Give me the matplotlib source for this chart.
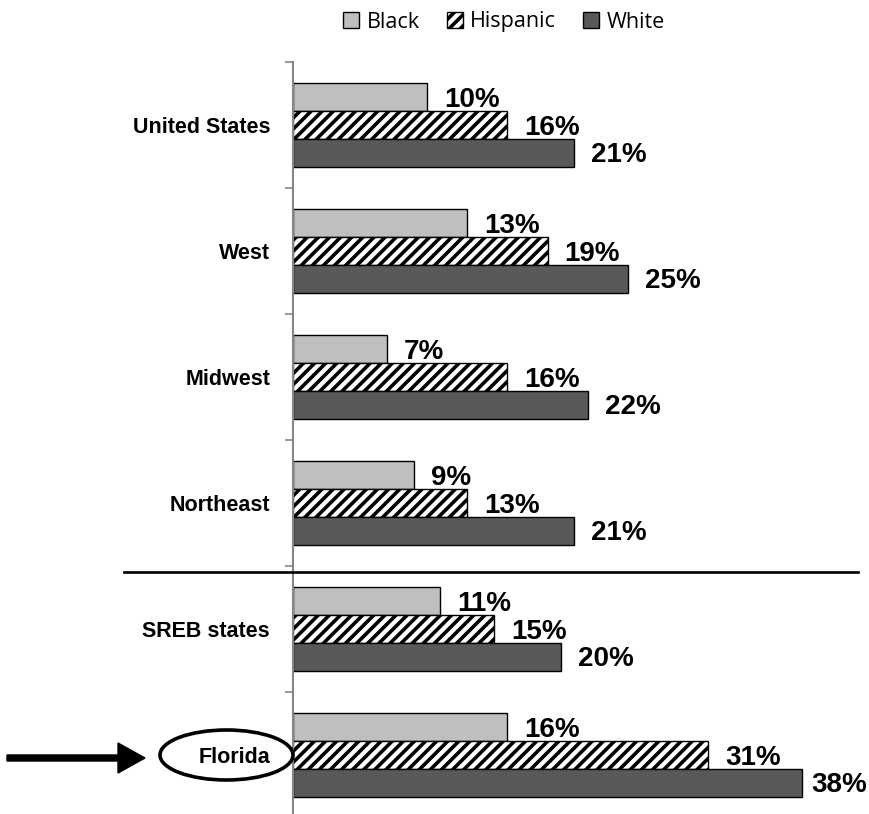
import numpy as np
import matplotlib.pyplot as plt
from matplotlib.patches import Patch, Ellipse, FancyArrow
from matplotlib.lines import Line2D

regions = ['United States', 'West', 'Midwest', 'Northeast', 'SREB states', 'Florida']
black = [10, 13, 7, 9, 11, 16]
hispanic = [16, 19, 16, 13, 15, 31]
white = [21, 25, 22, 21, 20, 38]

plt.rcParams['hatch.linewidth'] = 2.6
plt.rcParams['hatch.color'] = '#4a4a4a'

fig = plt.figure(figsize=(8.69, 8.14), dpi=100)
ax = fig.add_axes([293 / 869, -4 / 814, 536 / 869, 756 / 814])

y = np.arange(len(regions))
h = 0.222
series = [
    (black, -h, dict(color='#bfbfbf', edgecolor='black')),
    (hispanic, 0, dict(color='white', edgecolor='black', hatch='///')),
    (white, h, dict(color='#595959', edgecolor='black')),
]
for vals, off, st in series:
    ax.barh(y + off, vals, height=h, linewidth=1.0, **st)
    for yy, v in zip(y + off, vals):
        # labels sit outside the bar end, but stay inside the figure
        ax.text(min(v + 1.27, 38.65), yy + 0.02, f'{v}%', ha='left', va='center',
                fontsize=20, fontweight='bold', family='Liberation Sans')

ax.set_xlim(0, 40)
ax.set_ylim(len(regions) - 0.5, -0.5)
ax.set_yticks(y)
ax.set_yticklabels(regions, fontsize=15.5, fontweight='bold', family='Liberation Sans')
ax.set_yticks(np.arange(-0.5, len(regions), 1), minor=True)
ax.tick_params(axis='y', which='major', length=0, pad=16.5)
ax.tick_params(axis='y', which='minor', length=6, color='#868686', width=1.2)
ax.set_xticks([])
for s in ['top', 'right', 'bottom']:
    ax.spines[s].set_visible(False)
ax.spines['left'].set_color('#868686')
ax.spines['left'].set_linewidth(1.5)

# separator between regions and SREB
fig.add_artist(Line2D([124 / 869, 858 / 869], [1 - 572 / 814, 1 - 572 / 814],
                      color='black', linewidth=1.9))

# Florida highlight
fig.add_artist(Ellipse((226.5 / 869, 1 - 755 / 814), 133 / 869, 50 / 814,
                       fill=False, edgecolor='black', linewidth=2.6))
fig.add_artist(FancyArrow(7 / 869, 1 - 758 / 814, 138 / 869, 0,
                          width=6 / 814, head_width=30 / 814, head_length=27 / 869,
                          length_includes_head=True, color='black'))

handles = [Patch(facecolor='#bfbfbf', edgecolor='black', label='Black'),
           Patch(facecolor='white', edgecolor='black', hatch='///', label='Hispanic'),
           Patch(facecolor='#595959', edgecolor='black', label='White')]
fig.legend(handles=handles, loc='center', bbox_to_anchor=(504 / 869, 1 - 22 / 814),
           ncol=3, frameon=False, handlelength=0.75, handleheight=0.75,
           handletextpad=0.35, columnspacing=1.25,
           prop={'family': 'Open Sans', 'size': 15.5})

fig.savefig('out.png', dpi=100)
